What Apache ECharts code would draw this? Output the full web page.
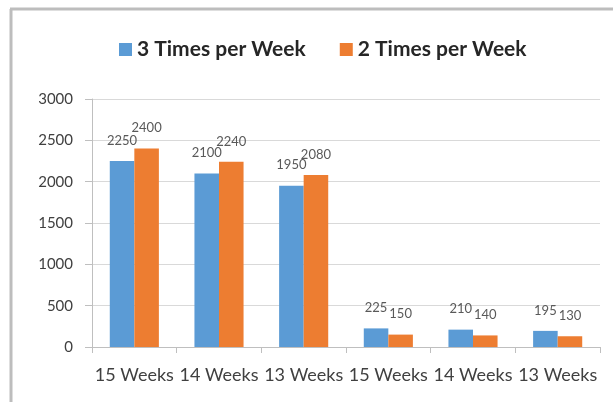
<!DOCTYPE html>
<html><head><meta charset="utf-8">
<script src="https://cdn.jsdelivr.net/npm/echarts@6/dist/echarts.min.js"></script>
<style>html,body{margin:0;padding:0;background:#fff}#c{width:613px;height:402px}</style>
</head><body><div id="c"></div>
<script>
var categories = ['15 Weeks','14 Weeks','13 Weeks','15 Weeks','14 Weeks','13 Weeks'];
var seriesNames = ['3 Times per Week','2 Times per Week'];
var threeTimes = [2250, 2100, 1950, 225, 210, 195];
var twoTimes = [2400, 2240, 2080, 150, 140, 130];
var yTicks = [0, 500, 1000, 1500, 2000, 2500, 3000];

var font = 'Lato, "Open Sans", sans-serif';
var chart = echarts.init(document.getElementById('c'), null, {renderer:'canvas'});
chart.setOption({
  animation:false,
  graphic:[
    {type:'line', shape:{x1:10,y1:9,x2:613,y2:9}, style:{stroke:'#bdbdbd', lineWidth:3}},
    {type:'line', shape:{x1:11,y1:9,x2:11,y2:402}, style:{stroke:'#bdbdbd', lineWidth:3}}
  ],
  legend:{
    top:34, left:114, itemWidth:13, itemHeight:13, itemGap:34,
    icon:'rect',
    textStyle:{fontFamily:font, fontWeight:'bold', fontSize:21, color:'#262626'},
    data:seriesNames
  },
  grid:{left:92, right:13, top:99, bottom:55, containLabel:false},
  xAxis:{
    type:'category', data:categories,
    axisLine:{lineStyle:{color:'#bfbfbf'}},
    axisTick:{show:true, length:6, lineStyle:{color:'#bfbfbf'}},
    axisLabel:{fontFamily:font, fontSize:18, color:'#404040', margin:19, interval:0}
  },
  yAxis:{
    type:'value', min:yTicks[0], max:yTicks[yTicks.length-1], interval:500,
    axisLine:{show:true, lineStyle:{color:'#bfbfbf'}},
    axisTick:{show:true, length:7, lineStyle:{color:'#bfbfbf'}},
    splitLine:{lineStyle:{color:'#d9d9d9'}},
    axisLabel:{fontFamily:font, fontSize:15, color:'#404040', margin:19, formatter:function(v){return String(v);}}
  },
  series:[
    {name:seriesNames[0], type:'bar', data:threeTimes, barGap:'0%', barCategoryGap:'42%',
     itemStyle:{color:'#5B9BD5'},
     label:{show:true, position:'top', distance:14, fontFamily:font, fontSize:13, color:'#595959'}},
    {name:seriesNames[1], type:'bar', data:twoTimes, barGap:'0%', barCategoryGap:'42%',
     itemStyle:{color:'#ED7D31'},
     label:{show:true, position:'top', distance:14, fontFamily:font, fontSize:13, color:'#595959'}}
  ]
});
</script></body></html>
